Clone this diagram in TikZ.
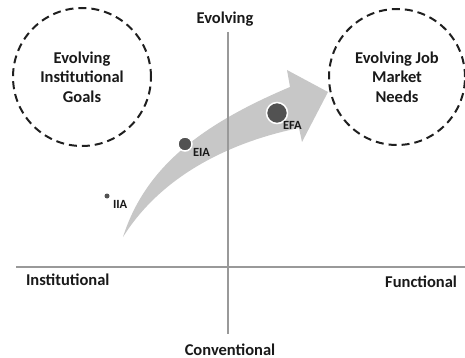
\documentclass[tikz,border=0pt]{standalone}
\usepackage{fontspec}
\setmainfont{Carlito}
\begin{document}
\begin{tikzpicture}[x=1pt,y=-1pt,
  every node/.style={inner sep=0pt, outer sep=0pt},
  txt/.style={font=\bfseries\fontsize{16.5}{19.5}\selectfont, text=black!90},
  ptlabel/.style={font=\bfseries\fontsize{12.5}{14}\selectfont, text=black!90},
  axisline/.style={draw=black!40, line width=1.2pt},
  goal/.style={txt, draw=black!88, line width=2pt, dash pattern=on 8pt off 5pt,
    circle, minimum size=138pt, align=center},
  dotmark/.style={circle, fill=black!68, draw=white, line width=1.5pt},
  trend/.style={fill=black!22}
]
\useasboundingbox (0,0) rectangle (465,358);

% broad curved arrow showing the shift
\path[trend] (123,237) .. controls (145,168) and (200,125) .. (290,87)
  -- (287,70) -- (328,92) -- (302,142) -- (299,128)
  .. controls (240,140) and (165,170) .. (123,237) -- cycle;

% axes
\coordinate (vtop) at (228,32);
\coordinate (vbot) at (228,334);
\coordinate (hleft) at (16,267);
\coordinate (hright) at (465,267);
\draw[axisline] (vtop) -- (vbot);
\draw[axisline] (hleft) -- (hright);

% axis labels
\node[txt, anchor=base] (evo) at (225,24) {Evolving};
\node[txt, anchor=base] (conv) at (230,355) {Conventional};
\node[txt, anchor=base west] (inst) at (26,285) {Institutional};
\node[txt, anchor=base east] (func) at (457,287) {Functional};

% goal circles
\node[goal] (instgoals) at (82,77) {Evolving\\Institutional\\Goals};
\node[goal, minimum size=136pt] (jobneeds) at (397,77) {Evolving Job\\Market\\Needs};

% positions along the shift
\node[circle, fill=black!68, minimum size=5pt] (iia) at (107,196) {};
\node[dotmark, minimum size=14pt] (eia) at (185,144) {};
\node[dotmark, minimum size=21pt] (efa) at (277,113) {};
\node[ptlabel, anchor=base west] (iialbl) at (113,208) {IIA};
\node[ptlabel, anchor=base west] (eialbl) at (193,157) {EIA};
\node[ptlabel, anchor=base west] (efalbl) at (283,130) {EFA};
\end{tikzpicture}
\end{document}
